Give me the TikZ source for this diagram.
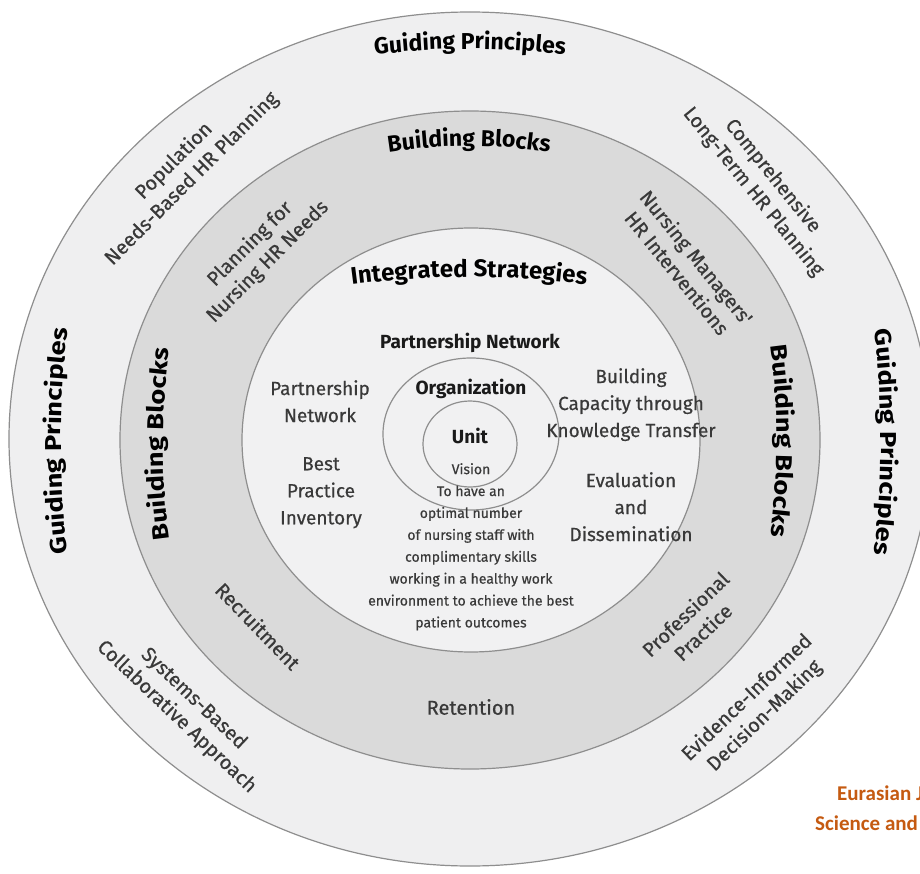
\documentclass[tikz,border=0pt]{standalone}
\usepackage{fontspec}
\setmainfont{Fira Sans}
\newfontfamily\regfont[FakeBold=0.5]{Fira Sans}
\newfontfamily\sidefont[FakeStretch=1.18]{Fira Sans}
\newfontfamily\wmfont{Carlito}
\usetikzlibrary{decorations.text}
\definecolor{ringout}{HTML}{EFEFF0}
\definecolor{band}{HTML}{DADADA}
\definecolor{innerc}{HTML}{F1F1F2}
\definecolor{edge}{HTML}{8E8E8E}
\definecolor{txt}{HTML}{393939}
\definecolor{ttl}{HTML}{1A1A1A}
\definecolor{wm}{HTML}{C55A11}
\newcommand\topfont{\bfseries\fontsize{23}{23}\selectfont}
\newcommand\isfont{\bfseries\fontsize{24}{24}\selectfont}
\newcommand\sidettl{\sidefont\bfseries\fontsize{23}{23}\selectfont}
\begin{document}
\begin{tikzpicture}[x=1pt,y=1pt,
  ring/.style={draw=edge, line width=1.2pt},
  lbl/.style={text=txt, font=\regfont\fontsize{19}{27}\selectfont, align=center, inner sep=0pt},
  rlbl/.style={text=txt, font=\regfont\fontsize{20}{25}\selectfont, align=center, inner sep=0pt},
  vis/.style={text=txt, font=\regfont\fontsize{14}{21.9}\selectfont, align=center, inner sep=0pt},
  boldlbl/.style={text=ttl, font=\fontsize{19}{22}\selectfont\bfseries, inner sep=0pt},
  wmlbl/.style={text=wm, font=\wmfont\bfseries\fontsize{21}{21}\selectfont, inner sep=0pt, anchor=west},
  curved/.style={decorate, color=ttl}
]
\useasboundingbox (-470,-433) rectangle (450,440);
\fill[white] (-470,-433) rectangle (450,440);
% rings
\draw[ring, fill=ringout] (0,1) ellipse [x radius=461, y radius=427];
\draw[ring, fill=band] (0,0) ellipse [x radius=350, y radius=329];
\draw[ring, fill=innerc] (1,0) ellipse [x radius=229, y radius=212];
\draw[ring] (1,6) ellipse [x radius=88, y radius=76];
\draw[ring] (0,-4) ellipse [x radius=47, y radius=43];

% curved titles
\path[curved, decoration={text along path, text align=center, text={|\topfont|Guiding Principles}}]
  ([shift={(100:800)}]0,-409) arc[start angle=100, end angle=80, radius=800];
\path[curved, decoration={text along path, text align=center, text={|\sidettl|Guiding Principles}}]
  ([shift={(190:900)}]491,-1) arc[start angle=190, end angle=170, radius=900];
\path[curved, decoration={text along path, text align=center, text={|\sidettl|Guiding Principles}}]
  ([shift={(10:900)}]-489,-2) arc[start angle=10, end angle=-10, radius=900];
\path[curved, decoration={text along path, text align=center, text={|\topfont|Building Blocks}}]
  ([shift={(105:520)}]-1,-226) arc[start angle=105, end angle=75, radius=520];
\path[curved, decoration={text along path, text align=center, text={|\sidettl|Building Blocks}}]
  ([shift={(192:700)}]393,-4) arc[start angle=192, end angle=168, radius=700];
\path[curved, decoration={text along path, text align=center, text={|\sidettl|Building Blocks}}]
  ([shift={(12:700)}]-393,-1) arc[start angle=12, end angle=-12, radius=700];
\path[curved, decoration={text along path, text align=center, text={|\isfont|Integrated Strategies}}]
  ([shift={(100:900)}]-1,-737) arc[start angle=100, end angle=80, radius=900];

% ring labels
\node[rlbl, rotate=45] (pop) at (-287,270) {Population\\Needs-Based HR Planning};
\node[rlbl, rotate=-51] (comp) at (293,256) {Comprehensive\\Long-Term HR Planning};
\node[rlbl, rotate=-43.5] (sys) at (-285,-268) {Systems-Based\\Collaborative Approach};
\node[rlbl, rotate=44] (evid) at (286,-267) {Evidence-Informed\\Decision-Making};
\node[rlbl, rotate=45] (plan) at (-211,187) {Planning for\\Nursing HR Needs};
\node[rlbl, rotate=-51] (mgr) at (217,175) {Nursing Managers'\\HR Interventions};
\node[rlbl, rotate=-46] (recr) at (-212,-186) {Recruitment};
\node[rlbl] (ret) at (1,-267) {Retention};
\node[rlbl, rotate=44] (prof) at (224,-183) {Professional\\Practice};

% inner area
\node[boldlbl, anchor=base] (pnet) at (0,92) {Partnership Network};
\node[boldlbl, anchor=base] (org) at (1,46) {Organization};
\node[boldlbl, anchor=base] (unit) at (0,-3) {Unit};
\node[vis, anchor=north] (vision) at (1,-23) {Vision\\To have an\\optimal number\\of nursing staff with\\complimentary skills\\working in a healthy work\\environment to achieve the best\\patient outcomes};
\node[lbl, anchor=north] (pn) at (-150,60) {Partnership\\Network};
\node[lbl, anchor=north] (bpi) at (-149,-17) {Best\\Practice\\Inventory};
\node[lbl, anchor=north] (bc) at (161,72) {Building\\Capacity through\\Knowledge Transfer};
\node[lbl, anchor=north] (ed) at (161,-32) {Evaluation\\and\\Dissemination};

% watermark
\node[wmlbl] (wm1) at (367,-353) {Eurasian J};
\node[wmlbl] (wm2) at (345,-383) {Science and};
\end{tikzpicture}
\end{document}
